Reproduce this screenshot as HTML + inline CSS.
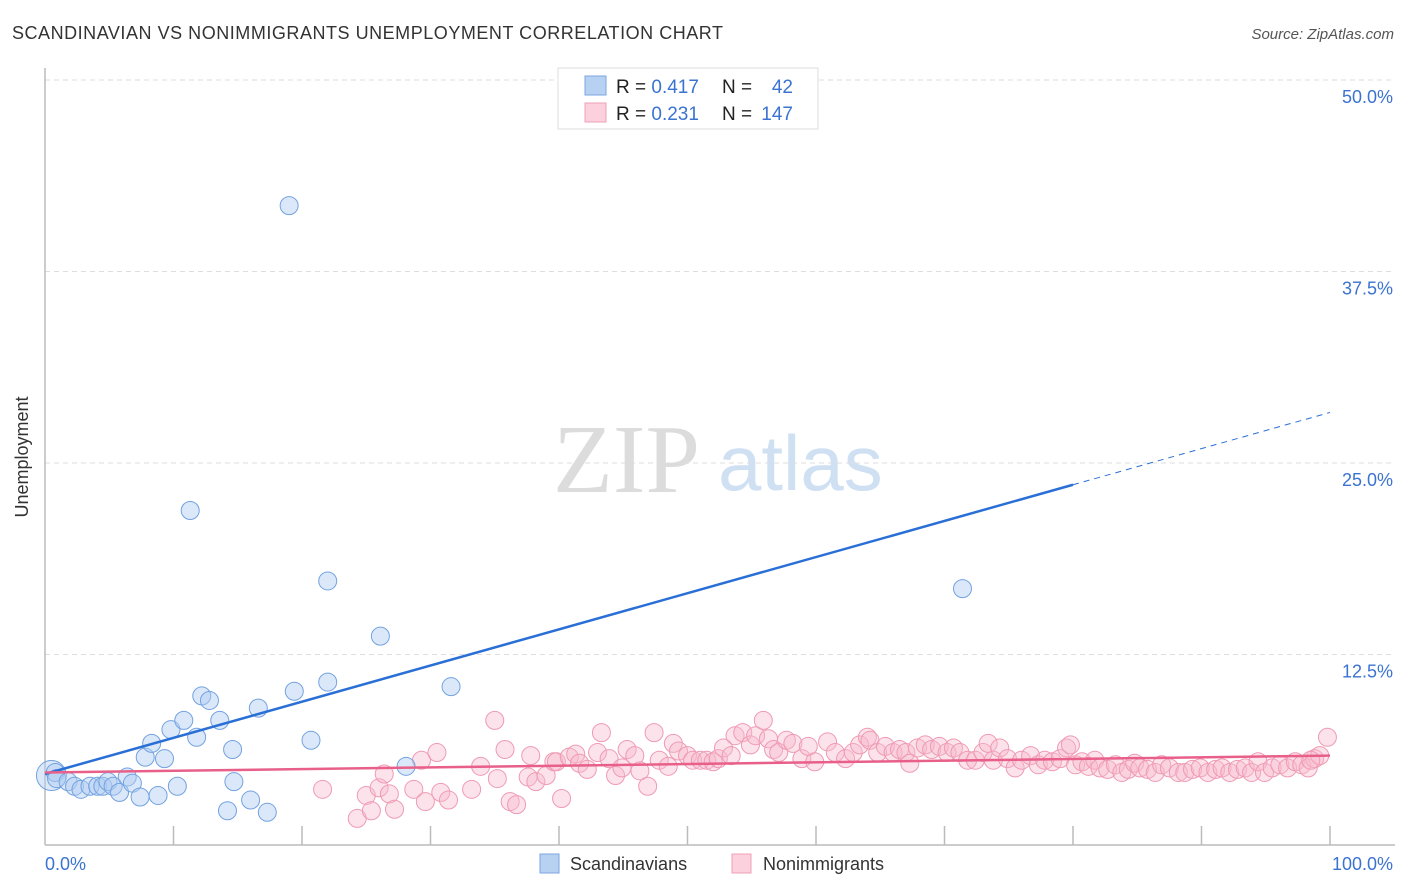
<!DOCTYPE html>
<html><head><meta charset="utf-8"><style>
body{margin:0;background:#fff;font-family:"Liberation Sans",sans-serif;}
svg{display:block}
</style></head><body>
<svg id="chart" width="1406" height="892">
<text x="12" y="39" font-size="18" fill="#333" textLength="711">SCANDINAVIAN VS NONIMMIGRANTS UNEMPLOYMENT CORRELATION CHART</text>
<text x="1394" y="39" font-size="15" fill="#555" font-style="italic" text-anchor="end">Source: ZipAtlas.com</text>
<g>
<text x="553" y="492" font-family="Liberation Serif,serif" font-size="98" fill="#dcdcdc">ZIP</text>
<text x="718" y="490" font-size="78" fill="#cfe0f3">atlas</text>
</g>
<g id="grid"></g>
<line x1="45" y1="68" x2="45" y2="845" stroke="#bbb" stroke-width="1.5"/>
<line x1="45" y1="845" x2="1395" y2="845" stroke="#bbb" stroke-width="1.5"/>
<g id="ticks"></g>
<text x="28" y="457" font-size="18" fill="#333" text-anchor="middle" transform="rotate(-90 28 457)">Unemployment</text>
<text x="45" y="870" font-size="18" fill="#3b73d1">0.0%</text>
<text x="1393" y="870" font-size="18" fill="#3b73d1" text-anchor="end">100.0%</text>
<g id="pts"></g>
<g id="lines"></g>
<g>
<rect x="558" y="68" width="260" height="61" fill="#fff" stroke="#ddd"/>
<rect x="585" y="76" width="21" height="19" fill="#b7d1f3" stroke="#7ea6e0"/>
<rect x="585" y="103" width="21" height="19" fill="#fcd0dc" stroke="#eea0b5"/>
<text x="616" y="93" font-size="19" fill="#222">R = <tspan fill="#3b73d1">0.417</tspan></text>
<text x="722" y="93" font-size="19" fill="#222">N = </text><text x="793" y="93" font-size="19" fill="#3b73d1" text-anchor="end">42</text>
<text x="616" y="120" font-size="19" fill="#222">R = <tspan fill="#3b73d1"> 0.231</tspan></text>
<text x="722" y="120" font-size="19" fill="#222">N = </text><text x="793" y="120" font-size="19" fill="#3b73d1" text-anchor="end">147</text>
</g>
<g>
<rect x="540" y="854" width="19" height="19" fill="#b7d1f3" stroke="#7ea6e0"/>
<text x="570" y="870" font-size="18" fill="#333">Scandinavians</text></g>
<g>
<rect x="732" y="854" width="19" height="19" fill="#fcd0dc" stroke="#eea0b5"/>
<text x="763" y="870" font-size="18" fill="#333">Nonimmigrants</text></g>
</svg>
<script>
const yTicks=[12.5,25,37.5,50];
const yTickLabels=["12.5%","25.0%","37.5%","50.0%"];
const blueX=[0.5,0.8,0.9,1.8,2.3,2.8,3.5,4.1,4.5,4.9,5.3,5.8,6.4,6.8,7.4,8.8,10.3,7.8,8.3,9.3,9.8,10.8,11.8,12.2,12.8,13.6,14.6,14.7,14.2,16.0,16.6,17.3,19.4,20.7,22.0,28.1,26.1,31.6,22.0,11.3,19.0,71.4];
const blueY=[4.6,4.8,4.4,4.2,3.9,3.7,3.9,3.9,3.9,4.2,3.9,3.5,4.5,4.1,3.2,3.3,3.9,5.8,6.7,5.7,7.6,8.2,7.1,9.8,9.5,8.2,6.3,4.2,2.3,3.0,9.0,2.2,10.1,6.9,10.7,5.2,13.7,10.4,17.3,21.9,41.8,16.8];
const pinkX=[21.6,24.3,25.0,25.4,26.0,26.4,26.8,27.2,28.7,29.3,29.6,30.5,30.8,31.4,33.2,33.9,35.0,35.2,35.8,36.2,36.7,37.6,37.8,38.2,39.0,39.6,39.8,40.2,40.8,41.3,41.6,42.2,43.0,43.3,43.9,44.4,44.9,45.3,45.9,46.3,46.9,47.4,47.8,48.5,48.9,49.3,50.0,50.4,51.0,51.5,52.0,52.4,52.8,53.4,53.7,54.3,54.9,55.3,55.9,56.3,56.7,57.1,57.7,58.2,58.9,59.4,59.9,60.9,61.5,62.3,62.9,63.4,64.0,64.2,64.8,65.4,66.0,66.5,67.0,67.3,67.9,68.5,69.0,69.6,70.2,70.7,71.2,71.8,72.4,73.0,73.4,73.8,74.3,74.9,75.5,76.0,76.7,77.3,77.8,78.4,79.0,79.5,79.8,80.2,80.7,81.2,81.7,82.1,82.7,83.3,83.8,84.3,84.8,85.2,85.8,86.4,86.9,87.5,88.2,88.7,89.3,89.9,90.5,91.1,91.6,92.2,92.8,93.4,93.9,94.4,94.9,95.5,96.1,96.7,97.3,97.8,98.3,98.8,99.2,99.8,98.5];
const pinkY=[3.7,1.8,3.3,2.3,3.8,4.7,3.4,2.4,3.7,5.6,2.9,6.1,3.5,3.0,3.7,5.2,8.2,4.4,6.3,2.9,2.7,4.5,5.9,4.2,4.6,5.5,5.5,3.1,5.8,6.0,5.4,5.0,6.1,7.4,5.7,4.6,5.1,6.3,5.9,4.9,3.9,7.4,5.6,5.2,6.7,6.2,5.9,5.6,5.6,5.6,5.5,5.7,6.4,5.9,7.2,7.4,6.6,7.2,8.2,7.0,6.3,6.1,6.9,6.7,5.7,6.5,5.5,6.8,6.1,5.7,6.1,6.6,7.1,6.9,6.1,6.5,6.1,6.3,6.1,5.4,6.4,6.6,6.3,6.5,6.1,6.4,6.1,5.6,5.6,6.1,6.7,5.6,6.4,5.7,5.1,5.6,5.9,5.3,5.6,5.5,5.7,6.4,6.6,5.3,5.5,5.2,5.6,5.1,5.0,5.3,4.8,5.0,5.4,5.1,5.0,4.8,5.3,5.1,4.8,4.8,5.0,5.1,4.8,5.0,5.1,4.8,5.0,5.1,4.8,5.5,4.8,5.1,5.3,5.1,5.5,5.3,5.1,5.7,5.9,7.1,5.6];
const blueTrend=[4.7,0.236];  // intercept, slope
const pinkTrend=[4.8,0.011];
const X=v=>45+v*12.85, Y=v=>846-v*15.32;
const NS="http://www.w3.org/2000/svg";
function mk(t,a,p){const e=document.createElementNS(NS,t);for(const k in a)e.setAttribute(k,a[k]);p.appendChild(e);return e;}
const grid=document.getElementById('grid');
yTicks.forEach((t,i)=>{
 const l=mk('line',{x1:45,x2:1395,y1:Y(t),y2:Y(t),stroke:'#ddd','stroke-dasharray':'5,4'},grid);
 
 
 const tx=mk('text',{x:1393,y:Y(t)+23,'font-size':18,fill:'#3b73d1','text-anchor':'end'},grid);
 tx.textContent=yTickLabels[i];
 
 
});
const ticks=document.getElementById('ticks');
for(let i=1;i<=10;i++){
 const l=mk('line',{x1:X(i*10),x2:X(i*10),y1:826,y2:845,stroke:'#bbb','stroke-width':1.5},ticks);
 
 
}
const pts=document.getElementById('pts');
pinkX.forEach((x,i)=>{
 const c=mk('circle',{cx:X(x),cy:Y(pinkY[i]),r:9,fill:'rgba(248,185,205,0.4)',stroke:'#ef9ab4','stroke-width':1},pts);
 
 
});
blueX.forEach((x,i)=>{
 const c=mk('circle',{cx:X(x),cy:Y(blueY[i]),r:i===0?15:9,fill:'rgba(175,205,242,0.45)',stroke:'#73a2e0','stroke-width':1},pts);
 
 
});
const lines=document.getElementById('lines');
let l=mk('line',{x1:X(0),y1:Y(blueTrend[0]),x2:X(80),y2:Y(blueTrend[0]+80*blueTrend[1]),stroke:'#2a6fd6','stroke-width':2.5},lines);


l=mk('line',{x1:X(80),y1:Y(blueTrend[0]+80*blueTrend[1]),x2:X(100),y2:Y(blueTrend[0]+100*blueTrend[1]),stroke:'#2a6fd6','stroke-width':1,'stroke-dasharray':'6,5'},lines);


l=mk('line',{x1:X(0),y1:Y(pinkTrend[0]),x2:X(100),y2:Y(pinkTrend[0]+100*pinkTrend[1]),stroke:'#e8608a','stroke-width':2.5},lines);


</script>
</body></html>
